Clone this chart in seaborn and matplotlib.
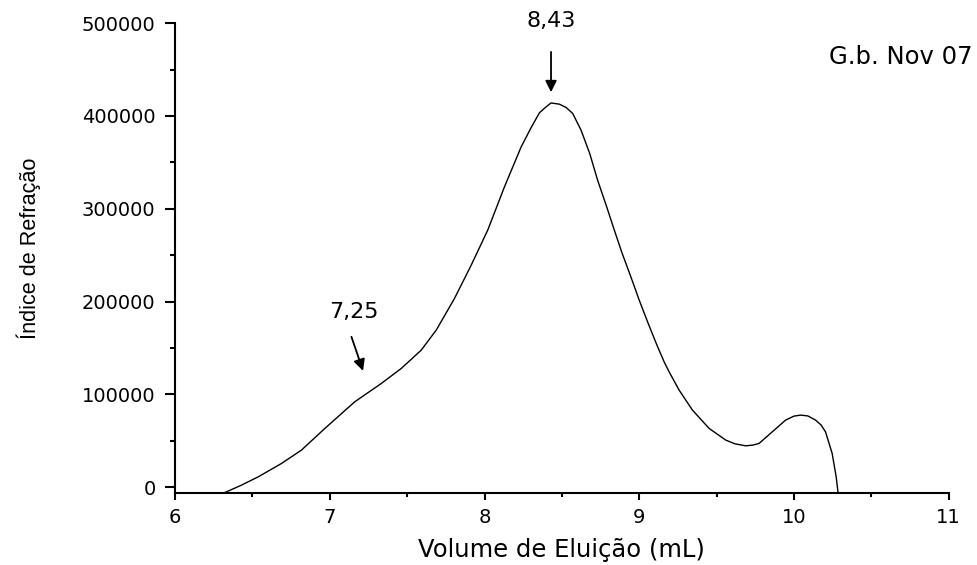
import matplotlib
matplotlib.use("Agg")
import matplotlib.pyplot as plt
from matplotlib.ticker import MultipleLocator
import seaborn as sns
import pandas as pd

# Refractive-index chromatogram (G.b. Nov 07)
volume_ml = [6.32, 6.43, 6.538, 6.688, 6.817, 6.968, 7.161, 7.333, 7.462, 7.591,
             7.688, 7.806, 7.914, 8.021, 8.129, 8.237, 8.30, 8.355, 8.398, 8.43,
             8.484, 8.527, 8.57, 8.624, 8.68, 8.731, 8.79, 8.839, 8.89, 8.946,
             9.0, 9.054, 9.11, 9.161, 9.194, 9.258, 9.344, 9.452, 9.56, 9.62,
             9.688, 9.735, 9.774, 9.86, 9.946, 10.0, 10.043, 10.09, 10.14, 10.175,
             10.204, 10.247, 10.273, 10.285]
ri_signal = [-6000, 2200, 11100, 25500, 39900, 63200, 91900, 111700, 127900, 147600,
             169200, 203300, 239200, 277000, 323600, 366700, 387000, 403400, 409800, 414000,
             412700, 409200, 402700, 384700, 359600, 330800, 302000, 277000, 251800, 226600,
             201500, 178100, 154800, 135000, 124000, 104500, 83000, 63200, 50600, 46600,
             44500, 45300, 47000, 59600, 72200, 76500, 77600, 76700, 72200, 67000,
             59600, 36300, 11100, -6000]

peak_labels = ["8,43", "7,25"]
peak_volume = [8.43, 7.25]

sns.set_theme(style="ticks")
plt.rcParams["font.family"] = ["DejaVu Sans"]
for key in ("text.color", "axes.labelcolor", "xtick.color", "ytick.color", "axes.edgecolor"):
    plt.rcParams[key] = "black"

df = pd.DataFrame({"volume": volume_ml, "ri": ri_signal})

fig = plt.figure(figsize=(9.78, 5.65), dpi=100)
ax = fig.add_axes([0.179, 0.128, 0.791, 0.831])

sns.lineplot(data=df, x="volume", y="ri", ax=ax, color="black", linewidth=1.0,
             sort=False, estimator=None)

ax.set_xlim(6, 11)
ax.set_ylim(-6000, 500000)
ax.xaxis.set_minor_locator(MultipleLocator(0.5))
ax.yaxis.set_minor_locator(MultipleLocator(50000))
ax.set_xticks([6, 7, 8, 9, 10, 11])
ax.set_xticklabels(["6", "7", "8", "9", "10", "11"])
ax.set_yticks([0, 100000, 200000, 300000, 400000, 500000])
ax.set_yticklabels(["0", "100000", "200000", "300000", "400000", "500000"])

for side in ("top", "right"):
    ax.spines[side].set_visible(False)
for side in ("left", "bottom"):
    ax.spines[side].set_linewidth(1.5)

ax.tick_params(axis="y", which="major", length=7, width=1.5, labelsize=14, pad=7)
ax.tick_params(axis="y", which="minor", length=3.5, width=1.5)
ax.tick_params(axis="x", which="major", length=5, width=1.5, labelsize=14, pad=6)
ax.tick_params(axis="x", which="minor", length=3, width=1.5)

ax.set_xlabel("Volume de Eluição (mL)", fontsize=17.5, labelpad=8)
ax.set_ylabel("Índice de Refração", fontsize=15.6,
              family=["Liberation Sans", "DejaVu Sans"])
ax.yaxis.set_label_coords(-0.173, 0.521)

arrow = dict(arrowstyle="-|>", color="black", lw=1.3, mutation_scale=17,
             shrinkA=0, shrinkB=0)

# main peak: vertical arrow
ax.annotate("", xy=(peak_volume[0], 425600), xytext=(peak_volume[0], 469000),
            arrowprops=arrow, annotation_clip=False)
ax.text(peak_volume[0], 502200, peak_labels[0], ha="center", va="center",
        fontsize=16, clip_on=False)

# shoulder: slanted arrow
ax.annotate("", xy=(peak_volume[1] - 0.035, 125300), xytext=(peak_volume[1] - 0.11, 162000),
            arrowprops=arrow)
ax.text(peak_volume[1] - 0.097, 188600, peak_labels[1], ha="center", va="center",
        fontsize=16)

fig.text(0.995, 0.899, "G.b. Nov 07", ha="right", va="center", fontsize=17.5)

fig.savefig("out.png", dpi=100, facecolor="white")
